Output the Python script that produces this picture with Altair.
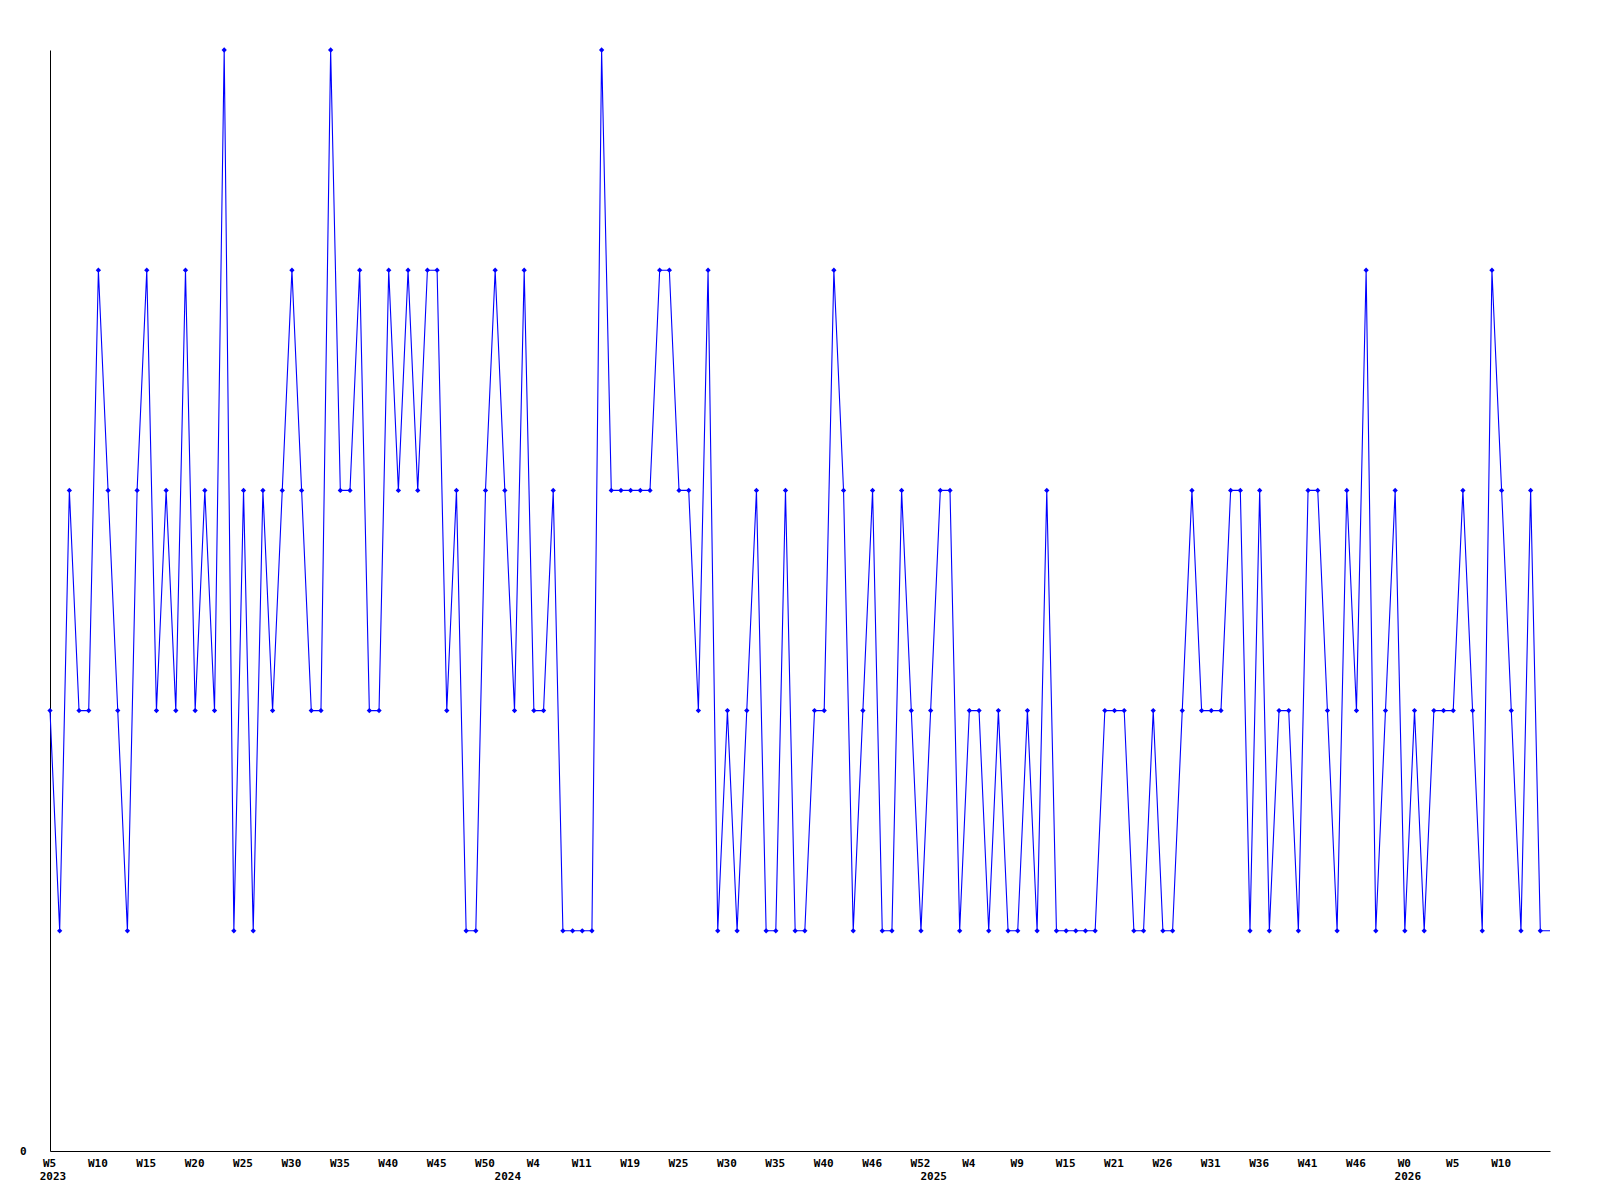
import altair as alt
import pandas as pd

values = [2, 1, 3, 2, 2, 4, 3, 2, 1, 3,
          4, 2, 3, 2, 4, 2, 3, 2, 5, 1,
          3, 1, 3, 2, 3, 4, 3, 2, 2, 5,
          3, 3, 4, 2, 2, 4, 3, 4, 3, 4,
          4, 2, 3, 1, 1, 3, 4, 3, 2, 4,
          2, 2, 3, 1, 1, 1, 1, 5, 3, 3,
          3, 3, 3, 4, 4, 3, 3, 2, 4, 1,
          2, 1, 2, 3, 1, 1, 3, 1, 1, 2,
          2, 4, 3, 1, 2, 3, 1, 1, 3, 2,
          1, 2, 3, 3, 1, 2, 2, 1, 2, 1,
          1, 2, 1, 3, 1, 1, 1, 1, 1, 2,
          2, 2, 1, 1, 2, 1, 1, 2, 3, 2,
          2, 2, 3, 3, 1, 3, 1, 2, 2, 1,
          3, 3, 2, 1, 3, 2, 4, 1, 2, 3,
          1, 2, 1, 2, 2, 2, 3, 2, 1, 4,
          3, 2, 1, 3, 1, 1]

week_labels = ["W5", "W10", "W15", "W20", "W25", "W30", "W35", "W40", "W45", "W50",
               "W4", "W11", "W19", "W25", "W30", "W35", "W40", "W46", "W52", "W4",
               "W9", "W15", "W21", "W26", "W31", "W36", "W41", "W46", "W0", "W5", "W10"]
label_step = 5

years = ["2023", "2024", "2025", "2026"]
year_index = [0, 47, 91, 140]

n = len(values)
df = pd.DataFrame({"i": list(range(n)), "v": values})
df_years = pd.DataFrame({"i": year_index, "year": years})

W, H = 1500, 1101
FONT = "DejaVu Sans Mono"

label_arr = "[" + ",".join("'" + s + "'" for s in week_labels) + "]"
tick_vals = [k * label_step for k in range(len(week_labels))]

x_scale = alt.Scale(domain=[0, n - 1], nice=False, zero=False)
y_scale = alt.Scale(domain=[0, 5], nice=False)

x_axis = alt.Axis(values=tick_vals, labelExpr=label_arr + "[round(datum.value/" + str(label_step) + ")]",
                  title=None, ticks=False, grid=False, domainColor="black", domainWidth=1,
                  labelFont=FONT, labelFontSize=11, labelFontWeight="bold", labelColor="black",
                  labelAngle=0, labelAlign="center", labelOffset=-1, labelPadding=6,
                  labelOverlap=False, labelFlush=False)
y_axis = alt.Axis(values=[0], format="d", title=None, ticks=False, grid=False, domainColor="black",
                  domainWidth=1, labelFont=FONT, labelFontSize=11, labelFontWeight="bold",
                  labelColor="black", labelPadding=24, labelBaseline="middle")

base = alt.Chart(df)
line = base.mark_line(color="#0000ff", strokeWidth=1.1, clip=False).encode(
    x=alt.X("i:Q", scale=x_scale, axis=x_axis),
    y=alt.Y("v:Q", scale=y_scale, axis=y_axis),
)
pts = base.transform_filter(alt.datum.i < n - 1).mark_point(
    shape="diamond", filled=True, color="#0000ff", size=28, opacity=1
).encode(
    x=alt.X("i:Q", scale=x_scale),
    y=alt.Y("v:Q", scale=y_scale),
)
yr = alt.Chart(df_years).mark_text(
    font=FONT, fontSize=11, fontWeight="bold", color="black", dx=3, baseline="middle", align="center"
).encode(
    x=alt.X("i:Q", scale=x_scale),
    y=alt.value(H + 26),
    text="year:N",
)

chart = alt.layer(line, pts, yr).properties(
    width=W, height=H,
    autosize=alt.AutoSizeParams(type="none"),
    padding={"left": 42, "top": 42, "right": 42, "bottom": 40},
    background="white",
).configure_view(stroke=None)

chart.save("out.html", embed_options={"renderer": "svg", "actions": False})
